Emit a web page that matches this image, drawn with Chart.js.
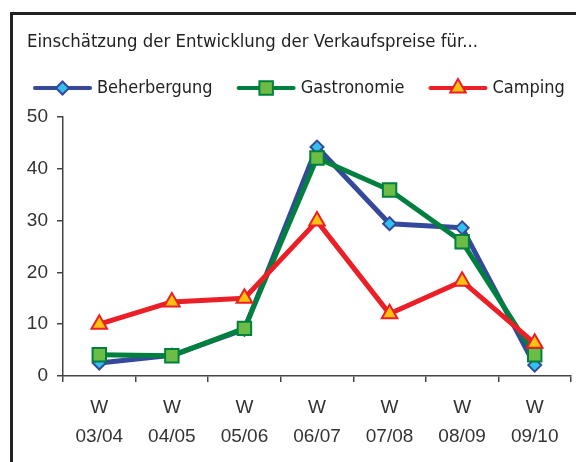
<!DOCTYPE html>
<html>
<head>
<meta charset="utf-8">
<script src="https://cdn.jsdelivr.net/npm/chart.js@4.4.0/dist/chart.umd.min.js"></script>
<style>
html, body { margin: 0; padding: 0; background: #fff; overflow: hidden; }
#frame { position: absolute; left: 10px; top: 12px; width: 620px; height: 520px; border: 3px solid #222; }
#wrap { position: absolute; left: 0; top: 0; width: 576px; height: 462px; }
</style>
</head>
<body>
<div id="frame"></div>
<div id="wrap"><canvas id="myChart" width="576" height="462"></canvas></div>
<script>
const titleText = 'Einschätzung der Entwicklung der Verkaufspreise für...';
const categories = [['W', '03/04'], ['W', '04/05'], ['W', '05/06'], ['W', '06/07'], ['W', '07/08'], ['W', '08/09'], ['W', '09/10']];
const seriesNames = ['Beherbergung', 'Gastronomie', 'Camping'];
const beherbergung = [2.5, 4, 9, 44.2, 29.4, 28.6, 2.1];
const gastronomie = [4.1, 3.9, 9.2, 42.1, 35.9, 25.9, 4.1];
const camping = [10, 14.3, 15, 29.9, 12, 18.3, 6.3];
const yMin = 0, yMax = 50, yStep = 10;

const textFont = '"Liberation Sans Narrow", "DejaVu Sans Condensed", sans-serif';
const tickFont = '"Liberation Sans", Arial, sans-serif';

// title + legend drawn by hand, like the original office chart
const customLegend = {
    id: 'customLegend',
    afterDraw: (chart) => {
        const ctx = chart.ctx;
        ctx.save();
        ctx.font = '18.4px ' + textFont;
        ctx.fillStyle = '#222';
        ctx.textAlign = 'left';
        ctx.textBaseline = 'middle';
        ctx.fillText(titleText, 27, 42);

        ctx.font = '18px ' + textFont;
        let x = 35;
        const y = 88;
        chart.data.datasets.forEach((ds) => {
            ctx.strokeStyle = ds.borderColor;
            ctx.lineWidth = 4;
            ctx.lineCap = 'round';
            ctx.beginPath();
            ctx.moveTo(x, y);
            ctx.lineTo(x + 55, y);
            ctx.stroke();
            ctx.fillStyle = ds.pointBackgroundColor;
            ctx.strokeStyle = ds.pointBorderColor;
            ctx.lineWidth = ds.pointBorderWidth;
            Chart.helpers.drawPoint(ctx, {pointStyle: ds.pointStyle, radius: ds.pointRadius, rotation: 0, borderWidth: ds.pointBorderWidth}, x + 27.5, y);
            ctx.fillStyle = '#222';
            ctx.fillText(ds.label, x + 62, y);
            x += 62 + ctx.measureText(ds.label).width + 26;
        });
        ctx.restore();
    }
};

const data = {
    labels: categories,
    datasets: [{
        label: seriesNames[0],
        data: beherbergung,
        borderColor: '#34499c',
        borderWidth: 5,
        pointStyle: 'rectRot',
        pointRadius: 6.5,
        pointBackgroundColor: '#34c0ef',
        pointBorderColor: '#34499c',
        pointBorderWidth: 2,
        order: 3
    }, {
        label: seriesNames[1],
        data: gastronomie,
        borderColor: '#00803e',
        borderWidth: 5,
        pointStyle: 'rect',
        pointRadius: 9.5,
        pointBackgroundColor: '#6cbd45',
        pointBorderColor: '#00803e',
        pointBorderWidth: 2,
        order: 2
    }, {
        label: seriesNames[2],
        data: camping,
        borderColor: '#ec1f26',
        borderWidth: 5,
        pointStyle: 'triangle',
        pointRadius: 9,
        pointBackgroundColor: '#ffc20f',
        pointBorderColor: '#ec1f26',
        pointBorderWidth: 2,
        order: 1
    }]
};

const config = {
    type: 'line',
    data,
    options: {
        responsive: false,
        animation: false,
        layout: { autoPadding: false, padding: { left: 9, right: 5, top: 117, bottom: 0 } },
        elements: { line: { tension: 0, borderJoinStyle: 'round' } },
        plugins: { legend: { display: false }, tooltip: { enabled: false } },
        scales: {
            x: {
                offset: true,
                grid: { offset: true, drawOnChartArea: false, tickLength: 6, color: '#444', lineWidth: 1.5 },
                border: { color: '#444', width: 1.5 },
                ticks: { color: '#333', font: { family: tickFont, size: 19, lineHeight: 1.53 }, padding: 11, maxRotation: 0 },
                afterFit: (scale) => { scale.height = 86; scale.paddingLeft = 0; scale.paddingRight = 0; }
            },
            y: {
                min: yMin,
                max: yMax,
                grid: { drawOnChartArea: false, tickLength: 6, color: '#444', lineWidth: 1.5 },
                border: { color: '#444', width: 1.5 },
                ticks: { stepSize: yStep, color: '#333', font: { family: tickFont, size: 19 }, padding: 9 },
                afterFit: (scale) => { scale.width = 54; }
            }
        }
    },
    plugins: [customLegend]
};

const myChart = new Chart(document.getElementById('myChart'), config);
</script>
</body>
</html>
